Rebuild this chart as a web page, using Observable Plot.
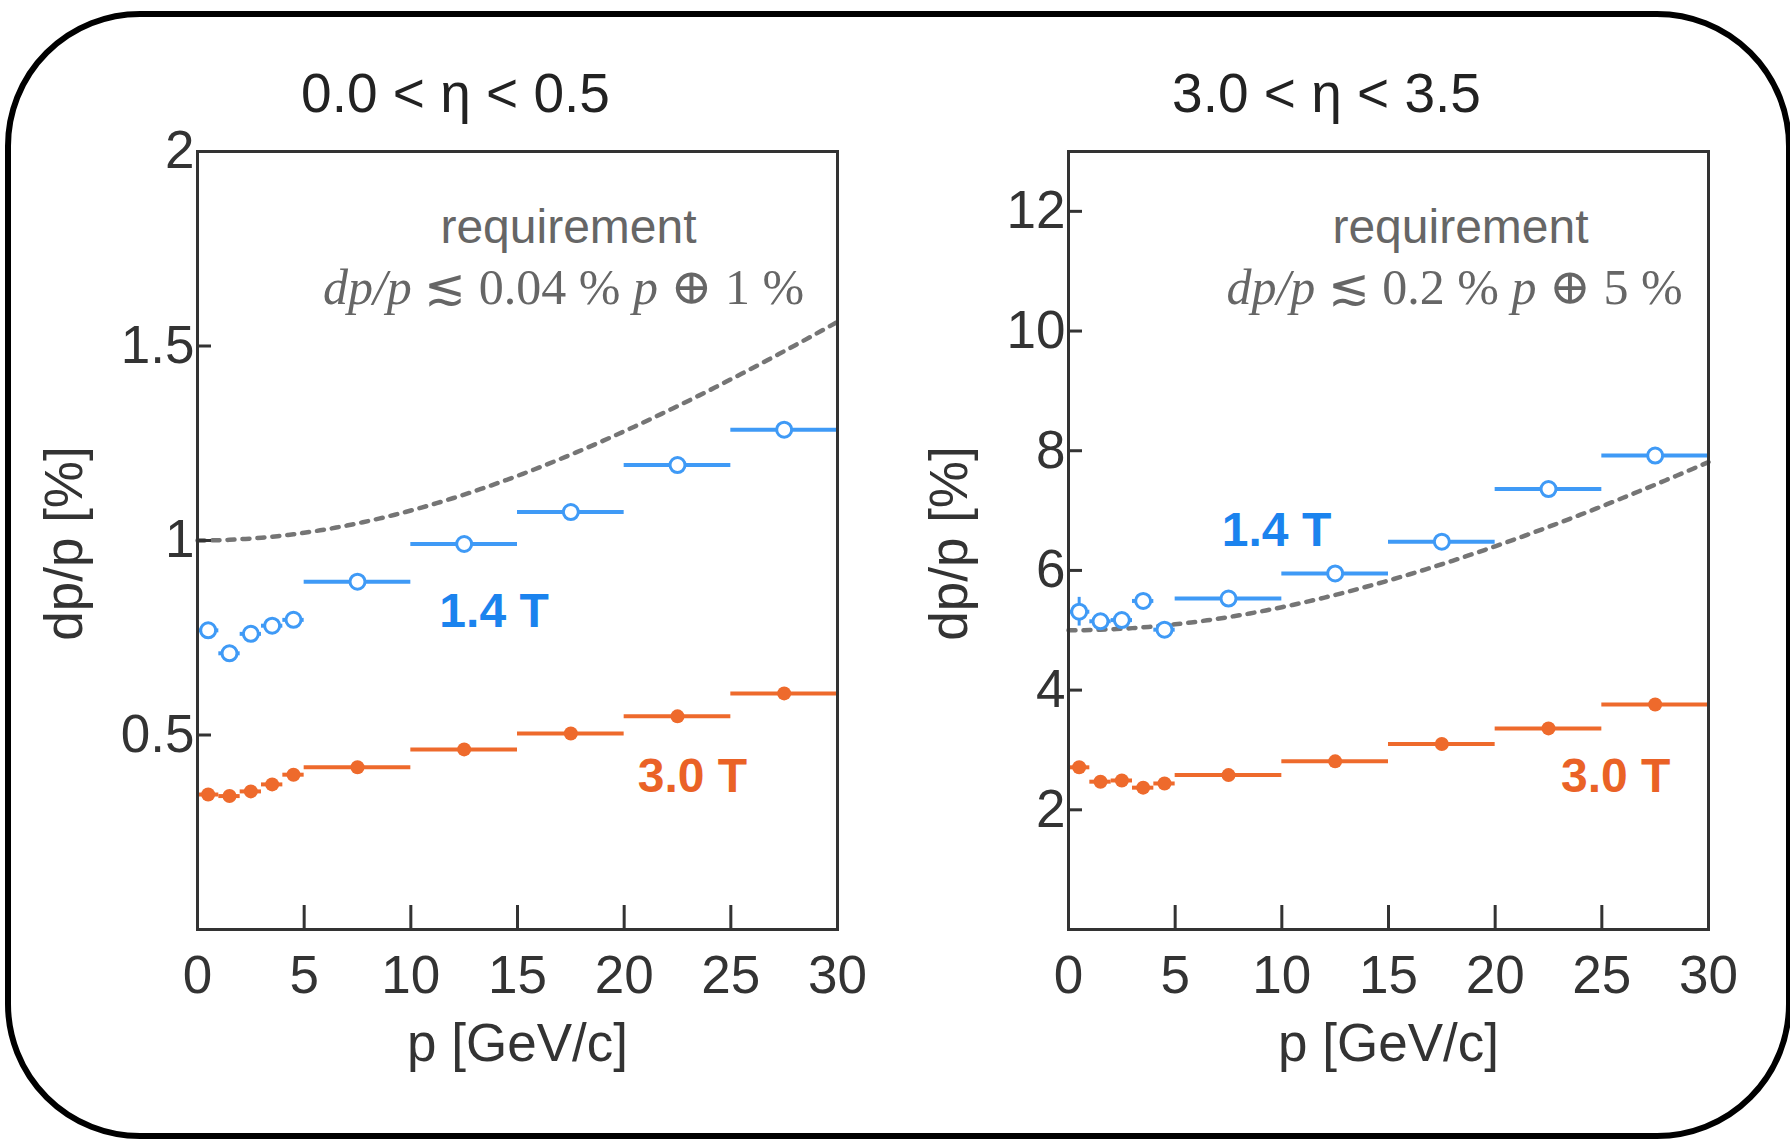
<!DOCTYPE html>
<html>
<head>
<meta charset="utf-8">
<script src="https://cdn.jsdelivr.net/npm/d3@7"></script>
<script src="https://cdn.jsdelivr.net/npm/@observablehq/plot@0.6"></script>
<style>
  html, body { margin: 0; padding: 0; background: #fff; }
  #page { position: relative; width: 1790px; height: 1141px; overflow: hidden; }
  #border {
    position: absolute; left: 5px; top: 11px; width: 1787px; height: 1128px;
    box-sizing: border-box; border: 6px solid #000; border-radius: 135px;
  }
  .panel { position: absolute; top: 0; }
</style>
</head>
<body>
<div id="page"><div id="border"></div></div>
<script>
// momentum bins [GeV/c]
const binLo     = [0, 1, 2, 3, 4, 5, 10, 15, 20, 25];
const binHi     = [1, 2, 3, 4, 5, 10, 15, 20, 25, 30];
const binCenter = [0.5, 1.5, 2.5, 3.5, 4.5, 7.5, 12.5, 17.5, 22.5, 27.5];

// dp/p [%] for 0.0 < η < 0.5
const central14T = [0.769, 0.710, 0.760, 0.781, 0.796, 0.894, 0.991, 1.073, 1.194, 1.285];
const central30T = [0.347, 0.343, 0.355, 0.373, 0.398, 0.417, 0.463, 0.504, 0.548, 0.607];

// dp/p [%] for 3.0 < η < 3.5
const forward14T    = [5.31, 5.15, 5.17, 5.49, 5.01, 5.53, 5.95, 6.48, 7.36, 7.92];
const forward14TErr = [0.24, 0, 0, 0, 0, 0, 0, 0, 0, 0];
const forward30T    = [2.71, 2.47, 2.49, 2.37, 2.44, 2.58, 2.81, 3.10, 3.36, 3.76];
const noErr         = [0, 0, 0, 0, 0, 0, 0, 0, 0, 0];

// requirement: dp/p = slope·p ⊕ constant  (in %)
const reqSlope    = [0.04, 0.2];
const reqConstant = [1, 5];

// axis ticks
const xTicks        = [0, 5, 10, 15, 20, 25, 30];
const centralYTicks = [0.5, 1, 1.5, 2];
const forwardYTicks = [2, 4, 6, 8, 10, 12];

// text
const panelTitles  = ["0.0 < η < 0.5", "3.0 < η < 3.5"];
const formulaParts = [
  [["dp/p", true], [" ≲ 0.04 % ", false], ["p", true], [" ⊕ 1 %", false]],
  [["dp/p", true], [" ≲ 0.2 % ", false], ["p", true], [" ⊕ 5 %", false]]
];
const fieldLabels = ["1.4 T", "3.0 T"];

const BLUE = "#3f9af6", BLUE_TEXT = "#1b83ee";
const ORANGE = "#ee6a2c", ORANGE_TEXT = "#ea6226";
const INK = "#333";
const SANS = "'Liberation Sans', Arial, Helvetica, sans-serif";
const SERIF = "'Liberation Serif', 'DejaVu Serif', 'Times New Roman', serif";

function rows(vals, errs) {
  return binCenter.map((p, i) => ({p, lo: binLo[i], hi: binHi[i], v: vals[i], e: errs[i]}));
}

function panel(o) {
  const r14 = rows(o.s14, o.e14);
  const r30 = rows(o.s30, o.e30);
  const curve = d3.range(0, 30.0001, 0.25).map(p => ({p, v: Math.hypot(o.slope * p, o.konst)}));
  const formulaText = o.formula.map(d => d[0]).join("");

  const svg = Plot.plot({
    width: 895, height: 1141,
    marginTop: 151, marginBottom: 212, marginLeft: o.marginLeft, marginRight: o.marginRight,
    x: {domain: [0, 30], label: null},
    y: {domain: [0, o.yMax], label: null},
    style: {fontFamily: SANS, background: "transparent", overflow: "visible", color: INK},
    marks: [
      // requirement curve
      Plot.line(curve, {x: "p", y: "v", stroke: "#757575", strokeWidth: 4.5, strokeDasharray: "7,8"}),
      // 1.4 T: open circles with bin-width bars
      Plot.ruleY(r14, {y: "v", x1: "lo", x2: "hi", stroke: BLUE, strokeWidth: 4}),
      Plot.ruleX(r14.filter(d => d.e > 0), {x: "p", y1: d => d.v - d.e, y2: d => d.v + d.e, stroke: BLUE, strokeWidth: 3}),
      Plot.dot(r14, {x: "p", y: "v", r: 7.5, stroke: BLUE, strokeWidth: 3, fill: "white"}),
      // 3.0 T: filled circles with bin-width bars
      Plot.ruleY(r30, {y: "v", x1: "lo", x2: "hi", stroke: ORANGE, strokeWidth: 4}),
      Plot.dot(r30, {x: "p", y: "v", r: 7, fill: ORANGE}),
      // frame and inward ticks
      Plot.frame({stroke: INK, strokeWidth: 3}),
      Plot.axisX({ticks: xTicks.slice(1, -1), tickSize: -24, stroke: INK, strokeWidth: 3, fill: "none", label: null}),
      Plot.axisX({ticks: xTicks, tickSize: 0, tickPadding: 26, fontSize: 53, fill: INK, label: null}),
      Plot.axisY({ticks: o.yTicks, tickSize: -14, stroke: INK, strokeWidth: 3, fill: "none", label: null}),
      Plot.axisY({ticks: o.yTicks, tickSize: 0, tickPadding: 3, fontSize: 53, fill: INK, tickFormat: d => String(d), label: null}),
      // axis titles
      Plot.text(["p [GeV/c]"], {frameAnchor: "bottom", lineAnchor: "bottom", dy: 131, fontSize: 53, fill: INK}),
      Plot.text(["dp/p [%]"], {frameAnchor: "left", textAnchor: "middle", rotate: -90, dx: o.yLabelDx, dy: 3, fontSize: 53, fill: INK}),
      // panel title
      Plot.text([o.title], {frameAnchor: "top", lineAnchor: "bottom", dx: -62, dy: -40, fontSize: 55, fill: "#222"}),
      // requirement annotation
      Plot.text(["requirement"], {frameAnchor: "top", lineAnchor: "bottom", dx: o.reqDx, dy: 91, fontSize: 48, fill: "#666"}),
      Plot.text([formulaText], {frameAnchor: "top", lineAnchor: "bottom", dx: o.formulaDx, dy: 152, fontSize: 50, fill: "#666", fontFamily: SERIF}),
      // field labels
      Plot.text([fieldLabels[0]], {x: o.lab14[0], y: o.lab14[1], fontSize: 48, fontWeight: "bold", fill: BLUE_TEXT}),
      Plot.text([fieldLabels[1]], {x: o.lab30[0], y: o.lab30[1], fontSize: 48, fontWeight: "bold", fill: ORANGE_TEXT})
    ]
  });

  // italic variables inside the requirement formula
  svg.querySelectorAll("text").forEach(t => {
    if (t.textContent === formulaText) {
      t.textContent = "";
      o.formula.forEach(([s, it]) => {
        const ts = document.createElementNS("http://www.w3.org/2000/svg", "tspan");
        ts.textContent = s;
        if (it) ts.setAttribute("font-style", "italic");
        t.appendChild(ts);
      });
    }
  });

  svg.classList.add("panel");
  svg.style.left = o.left + "px";
  return svg;
}

const page = document.getElementById("page");
page.appendChild(panel({
  left: 0, marginLeft: 197, marginRight: 58,
  title: panelTitles[0], yMax: 2, yTicks: centralYTicks,
  s14: central14T, e14: noErr, s30: central30T, e30: noErr,
  slope: reqSlope[0], konst: reqConstant[0], formula: formulaParts[0],
  yLabelDx: -132, reqDx: 51, formulaDx: 46,
  lab14: [13.9, 0.817], lab30: [23.2, 0.393]
}));
page.appendChild(panel({
  left: 895, marginLeft: 173, marginRight: 82,
  title: panelTitles[1], yMax: 13, yTicks: forwardYTicks,
  s14: forward14T, e14: forward14TErr, s30: forward30T, e30: noErr,
  slope: reqSlope[1], konst: reqConstant[1], formula: formulaParts[1],
  yLabelDx: -118, reqDx: 72, formulaDx: 66,
  lab14: [9.75, 6.67], lab30: [25.65, 2.56]
}));
</script>
</body>
</html>
